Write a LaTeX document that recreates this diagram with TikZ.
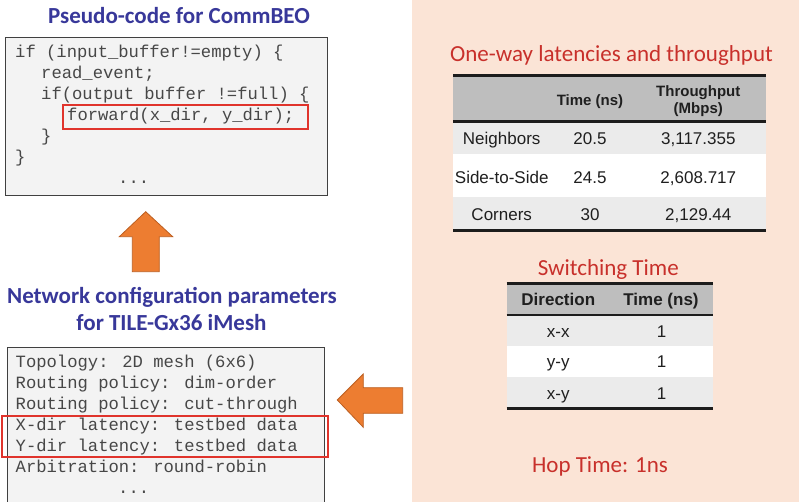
\documentclass[tikz,border=0pt]{standalone}
\usepackage{fontspec}
\setmainfont{Carlito}
\newfontfamily\codefont{Liberation Mono}
\newfontfamily\tabfont{Liberation Sans}

\definecolor{peach}{HTML}{FBE4D6}
\definecolor{titleblue}{HTML}{38389A}
\definecolor{titlered}{HTML}{C8302B}
\definecolor{arrowfill}{HTML}{ED7D31}
\definecolor{arrowline}{HTML}{BC5E20}
\definecolor{codebg}{HTML}{F3F3F3}
\definecolor{codeframe}{HTML}{404040}
\definecolor{codetext}{HTML}{474747}
\definecolor{hilite}{HTML}{E0342C}
\definecolor{headgray}{HTML}{BEBEBE}
\definecolor{rowgray}{HTML}{EBEBEB}
\definecolor{rulecol}{HTML}{1C1C1C}

\tikzset{
  codeline/.style={anchor=base west, inner sep=0pt, text=codetext,
    font=\codefont\fontsize{17.2}{20}\selectfont},
  bluetitle/.style={anchor=base, inner sep=0pt, text=titleblue,
    font=\bfseries\fontsize{23}{27}\selectfont},
  redtitle/.style={anchor=base, inner sep=0pt, text=titlered,
    font=\fontsize{23}{27}\selectfont},
  cell/.style={anchor=base, inner sep=0pt, text=black!88,
    font=\tabfont\fontsize{17}{20}\selectfont},
  headcell/.style={anchor=base, inner sep=0pt, text=black!88,
    font=\tabfont\bfseries\fontsize{15}{17}\selectfont},
  headcellbig/.style={headcell, font=\tabfont\bfseries\fontsize{17}{20}\selectfont},
  codebox/.style={draw=codeframe, fill=codebg, line width=0.9pt},
  hibox/.style={draw=hilite, line width=2pt},
  blockarrow/.style={fill=arrowfill, draw=arrowline, line width=0.8pt, line join=miter},
  tablerule/.style={draw=rulecol, line width=2.8pt},
}

\begin{document}
\begin{tikzpicture}[x=1pt, y=-1pt]
  \useasboundingbox (0,0) rectangle (799,502);
  \fill[white] (0,0) rectangle (799,502);

  % right-hand panel
  \fill[peach] (412,0) rectangle (799,502);

  % ---------- pseudo-code block ----------
  \node[bluetitle] (pctitle) at (179,24) {Pseudo-code for CommBEO};
  \path[codebox] (5,37) rectangle (327,195);
  \node[codeline] (c1) at (15,58)  {if (input\_buffer!=empty) \{};
  \node[codeline] (c2) at (41,79)  {read\_event;};
  \node[codeline] (c3) at (41,100) {if(output buffer !=full) \{};
  \node[codeline] (c4) at (67,121) {forward(x\_dir, y\_dir);};
  \node[codeline] (c5) at (41,142) {\}};
  \node[codeline] (c6) at (15,163) {\}};
  \node[codeline] (c7) at (118,184) {...};
  \draw[hibox] (63,105.5) rectangle (308,129.5);

  % up arrow
  \draw[blockarrow] (145.7,211.7) -- (172.7,236.7) -- (159.3,236.7) -- (159.3,271.7)
    -- (132.3,271.7) -- (132.3,236.7) -- (119.3,236.7) -- cycle;

  % ---------- network configuration block ----------
  \node[bluetitle] (nctitle1) at (172,303) {Network configuration parameters};
  \node[bluetitle] (nctitle2) at (171.5,330) {for TILE-Gx36 iMesh};
  \path[codebox] (7,347) rectangle (324,510);
  \node[codeline] (n1) at (15.5,367) {Topology: 2D mesh (6x6)};
  \node[codeline] (n2) at (15.5,388) {Routing policy: dim-order};
  \node[codeline] (n3) at (15.5,409) {Routing policy: cut-through};
  \node[codeline] (n4) at (15.5,430) {X-dir latency: testbed data};
  \node[codeline] (n5) at (15.5,451) {Y-dir latency: testbed data};
  \node[codeline] (n6) at (15.5,472) {Arbitration: round-robin};
  \node[codeline] (n7) at (118,493) {...};
  \draw[hibox] (2,416) rectangle (328,457);

  % left arrow
  \draw[blockarrow] (337.3,400) -- (363.3,374) -- (363.3,387.7) -- (402.7,387.7)
    -- (402.7,413.3) -- (363.3,413.3) -- (363.3,427.3) -- cycle;

  % ---------- one-way latencies table ----------
  \node[redtitle] (lttitle) at (611.5,61.7) {One-way latencies and throughput};
  \fill[headgray] (453.3,75.7) rectangle (766,121.7);
  \fill[rowgray]  (453.3,121.7) rectangle (766,154);
  \fill[white]    (453.3,154) rectangle (766,196.7);
  \fill[rowgray]  (453.3,196.7) rectangle (766,230.3);
  \draw[tablerule] (453.3,75.7) -- (766,75.7);
  \draw[tablerule] (453.3,121.7) -- (766,121.7);
  \draw[tablerule] (453.3,230.3) -- (766,230.3);
  \node[headcell] (lh2)  at (590,105.3)  {Time (ns)};
  \node[headcell] (lh3a) at (698.3,96.5) {Throughput};
  \node[headcell] (lh3b) at (698.3,113.5) {(Mbps)};
  \node[cell] (l11) at (501.7,145)   {Neighbors};
  \node[cell] (l12) at (590,145)     {20.5};
  \node[cell] (l13) at (698.3,145)   {3,117.355};
  \node[cell] (l21) at (501.7,183.3) {Side-to-Side};
  \node[cell] (l22) at (590,183.3)   {24.5};
  \node[cell] (l23) at (698.3,183.3) {2,608.717};
  \node[cell] (l31) at (501.7,221)   {Corners};
  \node[cell] (l32) at (590,221)     {30};
  \node[cell] (l33) at (698.3,221)   {2,129.44};

  % ---------- switching time table ----------
  \node[redtitle] (sttitle) at (608.3,275) {Switching Time};
  \fill[headgray] (506.7,283.3) rectangle (712.7,315);
  \fill[rowgray]  (506.7,315) rectangle (712.7,346);
  \fill[white]    (506.7,346) rectangle (712.7,376.7);
  \fill[rowgray]  (506.7,376.7) rectangle (712.7,408.3);
  \draw[tablerule] (506.7,283.3) -- (712.7,283.3);
  \draw[tablerule] (506.7,315) -- (712.7,315);
  \draw[tablerule] (506.7,408.3) -- (712.7,408.3);
  \node[headcellbig] (sh1) at (558.3,305) {Direction};
  \node[headcellbig] (sh2) at (661,305)   {Time (ns)};
  \node[cell] (s11) at (558.3,337.3) {x-x};
  \node[cell] (s12) at (661.7,337.3) {1};
  \node[cell] (s21) at (558.3,367.7) {y-y};
  \node[cell] (s22) at (661.7,367.7) {1};
  \node[cell] (s31) at (558.3,399)   {x-y};
  \node[cell] (s32) at (661.7,399)   {1};

  \node[redtitle] (hop) at (600,472) {Hop Time: 1ns};
\end{tikzpicture}
\end{document}
